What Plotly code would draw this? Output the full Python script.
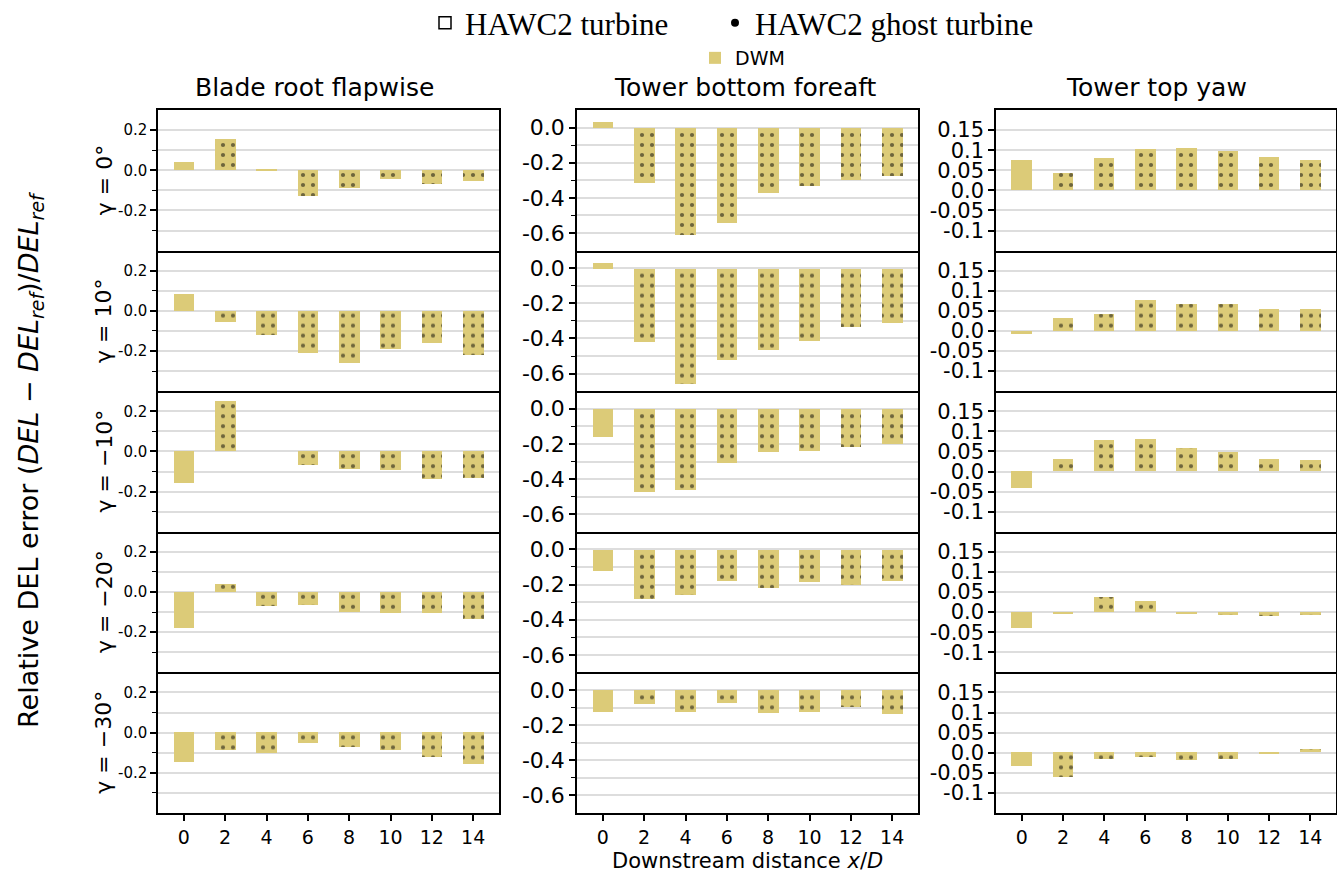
import plotly.graph_objects as go

# ---------------- data ----------------
X = [0, 2, 4, 6, 8, 10, 12, 14]
X_TICKS = ["0", "2", "4", "6", "8", "10", "12", "14"]
ROW_LABELS = ["γ = 0°", "γ = 10°", "γ = −10°", "γ = −20°", "γ = −30°"]
COL_TITLES = ["Blade root flapwise", "Tower bottom foreaft", "Tower top yaw"]

# DWM relative DEL error, one list per yaw row
flap_dwm = [
    [0.042, 0.155, 0.003, -0.128, -0.087, -0.043, -0.067, -0.053],
    [0.085, -0.055, -0.120, -0.208, -0.260, -0.190, -0.158, -0.217],
    [-0.158, 0.250, 0.000, -0.068, -0.090, -0.093, -0.140, -0.132],
    [-0.178, 0.043, -0.070, -0.063, -0.097, -0.105, -0.103, -0.132],
    [-0.148, -0.088, -0.102, -0.052, -0.072, -0.087, -0.125, -0.157],
]
tbfa_dwm = [
    [0.034, -0.314, -0.613, -0.541, -0.375, -0.335, -0.301, -0.276],
    [0.032, -0.419, -0.655, -0.522, -0.463, -0.410, -0.330, -0.309],
    [-0.160, -0.474, -0.461, -0.312, -0.246, -0.240, -0.217, -0.204],
    [-0.124, -0.284, -0.261, -0.181, -0.219, -0.183, -0.200, -0.181],
    [-0.130, -0.082, -0.128, -0.074, -0.131, -0.126, -0.099, -0.139],
]
ttyaw_dwm = [
    [0.075, 0.0425, 0.080, 0.102, 0.105, 0.097, 0.0825, 0.075],
    [-0.0067, 0.0325, 0.043, 0.077, 0.068, 0.067, 0.056, 0.056],
    [-0.041, 0.030, 0.078, 0.081, 0.059, 0.048, 0.031, 0.028],
    [-0.040, -0.002, 0.037, 0.028, -0.002, -0.0075, -0.009, -0.006],
    [-0.035, -0.062, -0.017, -0.0125, -0.019, -0.0175, -0.0025, 0.009],
]

# HAWC2 ghost turbine (hatched) relative DEL error
flap_ghost = [
    [None, 0.155, 0.003, -0.128, -0.087, -0.043, -0.067, -0.053],
    [None, -0.055, -0.120, -0.208, -0.260, -0.190, -0.158, -0.217],
    [None, 0.250, 0.000, -0.068, -0.090, -0.093, -0.140, -0.132],
    [None, 0.043, -0.070, -0.063, -0.097, -0.105, -0.103, -0.132],
    [None, -0.088, -0.102, -0.052, -0.072, -0.087, -0.125, -0.157],
]
tbfa_ghost = [
    [None, -0.314, -0.613, -0.541, -0.375, -0.335, -0.301, -0.276],
    [None, -0.419, -0.655, -0.522, -0.463, -0.410, -0.330, -0.309],
    [None, -0.474, -0.461, -0.312, -0.246, -0.240, -0.217, -0.204],
    [None, -0.284, -0.261, -0.181, -0.219, -0.183, -0.200, -0.181],
    [None, -0.082, -0.128, -0.074, -0.131, -0.126, -0.099, -0.139],
]
ttyaw_ghost = [
    [None, 0.0425, 0.080, 0.102, 0.105, 0.097, 0.0825, 0.075],
    [None, 0.0325, 0.043, 0.077, 0.068, 0.067, 0.056, 0.056],
    [None, 0.030, 0.078, 0.081, 0.059, 0.048, 0.031, 0.028],
    [None, -0.002, 0.037, 0.028, -0.002, -0.0075, -0.009, -0.006],
    [None, -0.062, -0.017, -0.0125, -0.019, -0.0175, -0.0025, 0.009],
]

DWM = [flap_dwm, tbfa_dwm, ttyaw_dwm]
GHOST = [flap_ghost, tbfa_ghost, ttyaw_ghost]

# y-axis settings per column
Y_RANGES = [[-0.4, 0.3], [-0.7, 0.1], [-0.15, 0.2]]
Y_TICKVALS = [[-0.2, 0.0, 0.2], [-0.6, -0.4, -0.2, 0.0], [-0.1, -0.05, 0.0, 0.05, 0.1, 0.15]]
Y_TICKTEXT = [["-0.2", "0.0", "0.2"], ["-0.6", "-0.4", "-0.2", "0.0"],
              ["-0.1", "-0.05", "0.0", "0.05", "0.1", "0.15"]]
Y_MINOR = [[-0.3, -0.1, 0.1], [-0.5, -0.3, -0.1], []]
Y_TICKFONT = [15, 22, 21]

# ---------------- style ----------------
W, H = 1337, 880
DWM_COLOR = "#dccb78"
GRID = "#dddddd"
FONT = "DejaVu Sans"
COL_PX = [(158, 499), (577, 918), (996, 1336)]
ROW_TOP, ROW_H = 110, 140.6
TITLE_X_PX = [314, 745, 1156]

fig = go.Figure()
layout = {}

for r in range(5):
    top = ROW_TOP + r * ROW_H
    bot = top + ROW_H
    for c in range(3):
        k = r * 3 + c + 1
        xa = "x" if k == 1 else f"x{k}"
        ya = "y" if k == 1 else f"y{k}"
        fig.add_trace(go.Bar(
            x=X, y=DWM[c][r], width=1.0, xaxis=xa, yaxis=ya,
            marker=dict(color=DWM_COLOR, line=dict(width=0)),
            name="DWM", legend="legend2", showlegend=(k == 1),
        ))
        fig.add_trace(go.Bar(
            x=X, y=GHOST[c][r], width=1.0, xaxis=xa, yaxis=ya,
            marker=dict(color="rgba(0,0,0,0)", line=dict(width=0),
                        pattern=dict(shape=".", fgcolor="black", bgcolor="rgba(0,0,0,0)",
                                     size=10, solidity=0.14)),
            name="HAWC2 ghost turbine", showlegend=False,
        ))
        bottom_row = (r == 4)
        layout["xaxis" if k == 1 else f"xaxis{k}"] = dict(
            domain=[COL_PX[c][0] / W, COL_PX[c][1] / W],
            anchor=ya, range=[-1.25, 15.25],
            tickvals=X, ticktext=X_TICKS,
            showticklabels=bottom_row,
            ticks="outside" if bottom_row else "", ticklen=6, tickwidth=1.5, tickcolor="black",
            tickfont=dict(family=FONT, size=19, color="black"),
            showline=True, mirror=(r == 0), linecolor="black", linewidth=1.5,
            showgrid=False, zeroline=False, fixedrange=True,
        )
        minor = dict(tickvals=Y_MINOR[c], ticks="outside", ticklen=4, tickwidth=1.2,
                     tickcolor="black", showgrid=True, gridcolor=GRID, gridwidth=1.5)
        layout["yaxis" if k == 1 else f"yaxis{k}"] = dict(
            domain=[1 - bot / H, 1 - top / H],
            anchor=xa, range=Y_RANGES[c],
            tickvals=Y_TICKVALS[c], ticktext=Y_TICKTEXT[c],
            ticks="outside", ticklen=6, tickwidth=1.5, tickcolor="black",
            tickfont=dict(family=FONT, size=Y_TICKFONT[c], color="black"),
            minor=minor,
            showline=True, mirror=True, linecolor="black", linewidth=1.5,
            showgrid=True, gridcolor=GRID, gridwidth=1.5, zeroline=False, fixedrange=True,
        )

# legend-only entries
fig.add_trace(go.Bar(x=[None], y=[None], name="HAWC2 turbine", legend="legend",
                     marker=dict(color="white", line=dict(color="black", width=1.5))))
fig.add_trace(go.Scatter(x=[None], y=[None], mode="markers", name="HAWC2 ghost turbine",
                         legend="legend3", marker=dict(color="black", size=8, symbol="circle")))

annotations = []
for c, t in enumerate(COL_TITLES):
    annotations.append(dict(text=t, x=TITLE_X_PX[c] / W, y=1 - 87 / H, xref="paper", yref="paper",
                            showarrow=False, xanchor="center", yanchor="middle",
                            font=dict(family=FONT, size=25, color="black")))
for r, t in enumerate(ROW_LABELS):
    yc = ROW_TOP + r * ROW_H + ROW_H / 2
    annotations.append(dict(text=t, x=104 / W, y=1 - yc / H, xref="paper", yref="paper",
                            showarrow=False, textangle=-90, xanchor="center", yanchor="middle",
                            font=dict(family=FONT, size=22, color="black")))
annotations.append(dict(
    text="Relative DEL error (<i>DEL</i> − <i>DEL</i><sub><i>ref</i></sub>)/<i>DEL</i><sub><i>ref</i></sub>",
    x=30 / W, y=1 - 460 / H, xref="paper", yref="paper", showarrow=False, textangle=-90,
    xanchor="center", yanchor="middle", font=dict(family=FONT, size=27, color="black")))
annotations.append(dict(text="Downstream distance <i>x</i>/<i>D</i>", x=747 / W, y=1 - 861 / H,
                        xref="paper", yref="paper", showarrow=False, xanchor="center",
                        yanchor="middle", font=dict(family=FONT, size=21, color="black")))

serif_font = dict(family="Liberation Serif", size=31, color="black")
fig.update_layout(
    width=W, height=H, margin=dict(l=0, r=0, t=0, b=0, autoexpand=False),
    plot_bgcolor="white", paper_bgcolor="white",
    barmode="overlay", bargap=0,
    annotations=annotations,
    legend=dict(orientation="h", x=425 / W, xanchor="left", y=1 - 23 / H, yanchor="middle",
                font=serif_font, bgcolor="rgba(0,0,0,0)"),
    legend3=dict(orientation="h", x=715 / W, xanchor="left", y=1 - 23 / H, yanchor="middle",
                 font=serif_font, bgcolor="rgba(0,0,0,0)"),
    legend2=dict(orientation="h", x=695 / W, xanchor="left", y=1 - 58 / H, yanchor="middle",
                 font=dict(family=FONT, size=19, color="black"), bgcolor="rgba(0,0,0,0)"),
    **layout,
)

fig.write_html("out.html")
